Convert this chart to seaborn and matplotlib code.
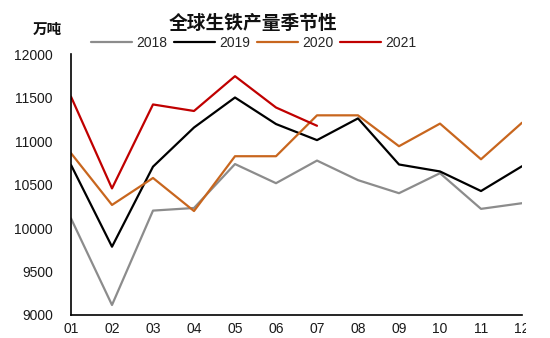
import matplotlib
matplotlib.use("Agg")
import matplotlib.pyplot as plt
import seaborn as sns
import pandas as pd
from matplotlib.patches import Rectangle

# Monthly global pig iron output, 10k tonnes
months = ["01", "02", "03", "04", "05", "06", "07", "08", "09", "10", "11", "12"]
y2018 = [10110, 9115, 10200, 10230, 10735, 10515, 10775, 10550, 10400, 10630, 10220, 10285]
y2019 = [10725, 9785, 10705, 11155, 11500, 11195, 11010, 11260, 10730, 10650, 10425, 10710]
y2020 = [10860, 10265, 10575, 10195, 10825, 10825, 11295, 11295, 10940, 11200, 10790, 11210]
y2021 = [11510, 10455, 11420, 11345, 11745, 11385, 11175]

years = ["2018", "2019", "2020", "2021"]
series = [y2018, y2019, y2020, y2021]
colors = ["#8c8c8c", "#000000", "#c8661e", "#c00000"]

rows = []
for yr, vals in zip(years, series):
    for i, v in enumerate(vals):
        rows.append({"month": i + 1, "value": v, "year": yr})
df = pd.DataFrame(rows)

sns.set_theme(style="white")
plt.rcParams["font.family"] = ["Liberation Sans", "Noto Sans CJK SC", "DejaVu Sans"]

fig = plt.figure(figsize=(5.5, 3.38), dpi=100)
ax = fig.add_axes([71 / 550, 1 - 315 / 338, (522 - 71) / 550, (315 - 54) / 338])

sns.lineplot(data=df, x="month", y="value", hue="year", hue_order=years,
             palette=dict(zip(years, colors)), linewidth=1.6, ax=ax, legend=False)

ax.set_xlim(1, 12)
ax.set_ylim(9000, 12000)
ax.set_xticks(range(1, 13))
ax.set_xticklabels(months)
ax.set_yticks([9000, 9500, 10000, 10500, 11000, 11500, 12000])
ax.set_xlabel("")
ax.set_ylabel("")

for side in ["top", "right"]:
    ax.spines[side].set_visible(False)
for side in ["left", "bottom"]:
    ax.spines[side].set_color("black")
    ax.spines[side].set_linewidth(1.2)

ax.tick_params(axis="both", direction="in", length=4, width=1.0, colors="black",
               labelsize=10, labelcolor="#1a1a1a")
ax.tick_params(axis="y", pad=13)
ax.tick_params(axis="x", pad=5)

# Legend in one row above the plot
handles = [plt.Line2D([], [], color=c, linewidth=1.6) for c in colors]
fig.legend(handles, years, loc="center", bbox_to_anchor=(253.5 / 550, 1 - 43 / 338),
           ncol=4, frameon=False, fontsize=10, handlelength=2.95,
           handletextpad=0.3, columnspacing=0.5, borderpad=0)

fig.text(253 / 550, 1 - 24 / 338, "全球生铁产量季节性", ha="center", va="center",
         fontsize=13.5, fontweight="bold", color="#111111")
fig.text(47 / 550, 1 - 30 / 338, "万吨", ha="center", va="center",
         fontsize=10.5, fontweight="bold", color="#111111")

# The frame ends just past the last axis tick, cutting the final month label
fig.patches.append(Rectangle((526 / 550, 0), 24 / 550, 20 / 338,
                             transform=fig.transFigure, facecolor="white",
                             edgecolor="none", zorder=10))

fig.savefig("out.png", dpi=100)
